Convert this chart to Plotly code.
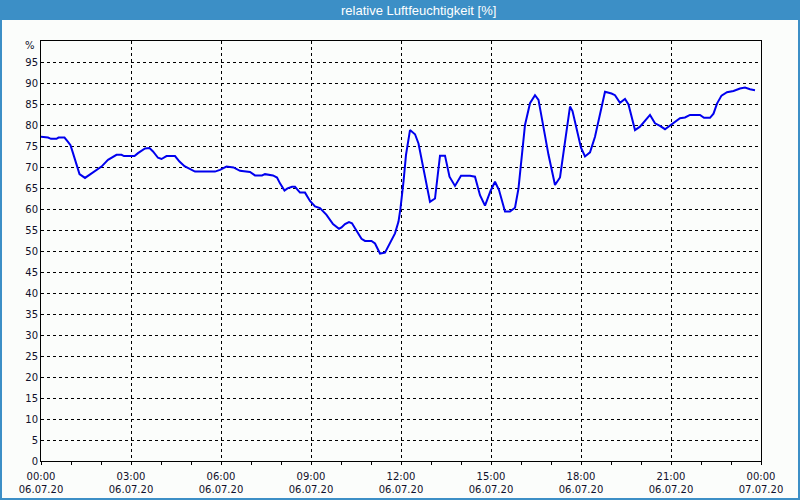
import plotly.graph_objects as go

DATE = "2020-07-06"
times = ["00:00","00:14","00:20","00:31","00:35","00:47","00:54","00:59","01:04","01:11","01:17","01:28","01:37","01:50",
         "02:01","02:14","02:31","02:41","02:46","03:07","03:14","03:28","03:37","03:44","03:54","04:01","04:11","04:28",
         "04:37","04:47","05:01","05:08","05:48","05:58","06:11","06:25","06:38","06:58","07:08","07:22","07:28","07:44",
         "07:52","07:58","08:07","08:13","08:22","08:28","08:38","08:48","08:58","09:08","09:18","09:31","09:44","09:56",
         "10:01","10:08","10:16","10:22","10:28","10:41","10:48","11:01","11:08","11:18","11:28","11:38","11:48","11:55",
         "11:59","12:05","12:10","12:18","12:28","12:35","12:41","12:52","12:58","13:08","13:13","13:18","13:28","13:37",
         "13:48","14:00","14:18","14:28","14:38","14:48","14:59","15:08","15:16","15:22","15:28","15:38","15:48","15:55",
         "16:01","16:08","16:18","16:28","16:35","16:44","16:55","17:08","17:18","17:28","17:38","17:43","17:52","18:00",
         "18:08","18:18","18:28","18:38","18:48","19:01","19:08","19:18","19:28","19:35","19:48","19:58","20:08","20:18",
         "20:28","20:38","20:48","20:58","21:08","21:18","21:28","21:38","21:58","22:06","22:18","22:25","22:32","22:41",
         "22:52","23:05","23:18","23:28","23:38","23:48"]
humidity = [77.2,77.0,76.7,76.7,77.0,77.0,76.0,75.2,73.3,70.5,68.3,67.4,68.1,69.3,
            70.1,71.7,72.9,72.9,72.6,72.6,73.3,74.4,74.5,73.7,72.2,71.9,72.6,72.6,
            71.3,70.2,69.4,68.9,68.9,69.3,70.1,69.9,69.1,68.8,68.0,68.0,68.3,68.0,
            67.5,66.1,64.4,64.9,65.3,65.3,63.9,63.9,61.9,60.6,60.2,58.6,56.4,55.3,
            55.6,56.4,56.9,56.6,55.4,52.9,52.4,52.4,51.8,49.4,49.6,51.8,54.2,57.0,
            60.2,66.5,72.9,78.8,77.8,75.6,72.1,65.7,61.7,62.5,67.3,72.7,72.7,67.7,
            65.5,67.9,67.9,67.7,63.3,60.8,64.3,66.5,64.5,62.1,59.4,59.4,60.3,64.9,
            72.1,80.0,85.2,87.1,86.0,80.0,72.9,65.7,67.5,76.0,84.4,83.3,78.4,74.6,
            72.5,73.5,77.2,82.4,87.9,87.5,87.1,85.3,86.2,84.9,78.8,79.6,81.0,82.4,
            80.4,79.8,79.0,79.8,80.8,81.6,81.8,82.4,82.4,81.7,81.7,82.7,85.1,87.0,
            87.8,88.1,88.7,88.9,88.5,88.3]

x_tickvals = ["2020-07-06 00:00","2020-07-06 03:00","2020-07-06 06:00","2020-07-06 09:00","2020-07-06 12:00",
              "2020-07-06 15:00","2020-07-06 18:00","2020-07-06 21:00","2020-07-07 00:00"]
x_ticktext = ["00:00<br>06.07.20","03:00<br>06.07.20","06:00<br>06.07.20","09:00<br>06.07.20","12:00<br>06.07.20",
              "15:00<br>06.07.20","18:00<br>06.07.20","21:00<br>06.07.20","00:00<br>07.07.20"]
y_tickvals = list(range(0, 101, 5))
y_ticktext = [str(v) for v in range(0, 100, 5)] + [""]
y_unit = "%"
title = "relative Luftfeuchtigkeit [%]"

W, H = 800, 500
ML, MR, MT, MB = 41, 39, 41, 39
PW, PH = W - ML - MR, H - MT - MB

def px(x):
    return (x - ML) / PW

def py(y):
    return 1 - (y - MT) / PH

fig = go.Figure()
fig.add_trace(go.Scatter(
    x=[f"{DATE} {t}" for t in times], y=humidity, mode="lines",
    line=dict(color="#0000ee", width=2), hoverinfo="skip", showlegend=False))

font = dict(family="DejaVu Sans", size=10, color="#10102a")
grid = dict(showgrid=True, gridcolor="#000000", gridwidth=1, griddash="3px,3px")

fig.update_layout(
    width=W, height=H, margin=dict(l=ML, r=MR, t=MT, b=MB, autoexpand=False),
    paper_bgcolor="#fbfdfb", plot_bgcolor="#fbfdfb",
    font=font, showlegend=False,
    xaxis=dict(type="date", range=["2020-07-06 00:00", "2020-07-07 00:00"],
               tickmode="array", tickvals=x_tickvals, ticktext=x_ticktext,
               ticks="outside", ticklen=3, tickcolor="#000000", tickwidth=1,
               ticklabelstandoff=3, automargin=False,
               minor=dict(dtick=3600000, tick0="2020-07-06 00:00", ticks="outside", ticklen=3,
                          tickcolor="#000000", showgrid=False),
               showline=True, linecolor="#000000", linewidth=1, mirror=True,
               zeroline=False, tickfont=font, **grid),
    yaxis=dict(range=[0, 100], tickmode="array", tickvals=y_tickvals, ticktext=y_ticktext,
               ticks="", showline=True, linecolor="#000000", linewidth=1, mirror=True,
               automargin=False, zeroline=False, tickfont=font, **grid),
    shapes=[
        dict(type="rect", xref="paper", yref="paper", x0=px(0), x1=px(W), y0=py(20), y1=py(0),
             fillcolor="#3c8fc6", line=dict(width=0), layer="above"),
        dict(type="rect", xref="paper", yref="paper", x0=px(1), x1=px(W - 1), y0=py(H - 1), y1=py(1),
             fillcolor="rgba(0,0,0,0)", line=dict(color="#3c8fc6", width=2), layer="above"),
    ],
    annotations=[
        dict(text=title, xref="paper", yref="paper", x=px(418), y=py(10),
             xanchor="center", yanchor="middle", showarrow=False,
             font=dict(family="Liberation Sans", size=13, color="#ffffff")),
        dict(text=y_unit, xref="paper", yref="paper", x=px(37), y=py(45.5),
             xanchor="right", yanchor="middle", showarrow=False, font=font),
    ],
)

fig.write_html("out.html")
